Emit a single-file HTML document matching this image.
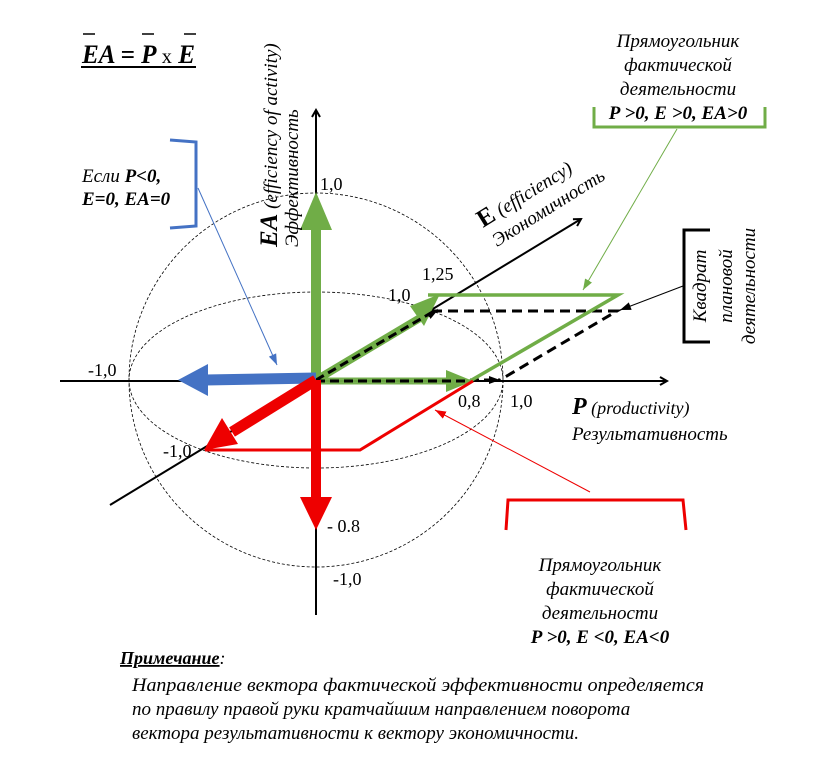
<!DOCTYPE html>
<html><head><meta charset="utf-8"><style>
html,body{margin:0;padding:0;background:#fff;width:830px;height:768px;overflow:hidden}
svg{display:block}
text{font-family:"Liberation Serif","Noto Serif CJK SC",serif;fill:#000}
</style></head><body>
<svg width="830" height="768" viewBox="0 0 830 768" xmlns="http://www.w3.org/2000/svg">
<defs>
<marker id="ab" markerWidth="10" markerHeight="10" refX="8" refY="5" orient="auto" markerUnits="userSpaceOnUse"><path d="M1,1 L8,5 L1,9" fill="none" stroke="#000" stroke-width="2"/></marker>
<marker id="sb" markerWidth="12" markerHeight="10" refX="11" refY="5" orient="auto" markerUnits="userSpaceOnUse"><path d="M0,1 L11,5 L0,9 z" fill="#000"/></marker>
<marker id="sg" markerWidth="12" markerHeight="10" refX="11" refY="5" orient="auto" markerUnits="userSpaceOnUse"><path d="M0,1 L11,5 L0,9 z" fill="#70ad47"/></marker>
<marker id="sr" markerWidth="12" markerHeight="10" refX="11" refY="5" orient="auto" markerUnits="userSpaceOnUse"><path d="M0,1 L11,5 L0,9 z" fill="#e00"/></marker>
<marker id="sbl" markerWidth="12" markerHeight="10" refX="11" refY="5" orient="auto" markerUnits="userSpaceOnUse"><path d="M0,1 L11,5 L0,9 z" fill="#4472c4"/></marker>
</defs>

<!-- formula -->
<text x="82" y="63" font-size="26" font-weight="bold" font-style="italic" textLength="113" lengthAdjust="spacingAndGlyphs">EA = P <tspan font-weight="normal" font-style="normal" font-size="21">x</tspan> E</text>
<line x1="81" y1="67" x2="196" y2="67" stroke="#000" stroke-width="2"/>
<line x1="83" y1="34" x2="95" y2="34" stroke="#000" stroke-width="1.5"/>
<line x1="142" y1="34" x2="154" y2="34" stroke="#000" stroke-width="1.5"/>
<line x1="184" y1="34" x2="196" y2="34" stroke="#000" stroke-width="1.5"/>

<!-- dashed ellipses -->
<circle cx="316" cy="380" r="187" fill="none" stroke="#000" stroke-width="0.8" stroke-dasharray="3,2"/>
<ellipse cx="316" cy="380" rx="187" ry="88" fill="none" stroke="#000" stroke-width="0.8" stroke-dasharray="3,2"/>

<!-- axes -->
<line x1="316" y1="615" x2="316" y2="110" stroke="#000" stroke-width="2" marker-end="url(#ab)"/>
<line x1="60" y1="381" x2="667" y2="381" stroke="#000" stroke-width="2" marker-end="url(#ab)"/>
<line x1="110" y1="505" x2="581" y2="219" stroke="#000" stroke-width="2" marker-end="url(#ab)"/>

<!-- planned square dashed -->
<polyline points="316,380 500,380" fill="none" stroke="#000" stroke-width="3" stroke-dasharray="9,5" marker-end="url(#sb)"/>
<line x1="316" y1="380" x2="438" y2="310" stroke="#000" stroke-width="3" stroke-dasharray="9,5" marker-end="url(#sb)"/>
<polyline points="432,311 617,311 500,380" fill="none" stroke="#000" stroke-width="3" stroke-dasharray="10,6"/>

<!-- green parallelogram -->
<polyline points="470,381 618,295 428,295" fill="none" stroke="#70ad47" stroke-width="3.5"/>
<!-- green arrows -->
<line x1="316" y1="380" x2="316" y2="228" stroke="#70ad47" stroke-width="10"/>
<polygon points="316,192 300,230 332,230" fill="#70ad47"/>
<line x1="316" y1="381" x2="452" y2="381" stroke="#70ad47" stroke-width="7" opacity="0.95"/>
<polygon points="473,381 446,370 446,392" fill="#70ad47"/>
<line x1="316" y1="380" x2="420" y2="318" stroke="#70ad47" stroke-width="8"/>
<polygon points="440,294 410,306 424,326" fill="#70ad47"/>
<line x1="316" y1="380" x2="436" y2="310" stroke="#000" stroke-width="3" stroke-dasharray="9,5"/>
<line x1="316" y1="381" x2="470" y2="381" stroke="#000" stroke-width="3" stroke-dasharray="9,5"/>

<!-- blue arrow -->
<line x1="316" y1="378" x2="205" y2="380" stroke="#4472c4" stroke-width="11"/>
<polygon points="178,380 208,364 208,396" fill="#4472c4"/>

<!-- red parallelogram -->
<polyline points="205,450 360,450 473,381" fill="none" stroke="#e00" stroke-width="3"/>
<!-- red arrows -->
<line x1="316" y1="380" x2="316" y2="500" stroke="#e00" stroke-width="10"/>
<polygon points="316,530 300,497 332,497" fill="#e00"/>
<line x1="316" y1="380" x2="232" y2="432" stroke="#e00" stroke-width="11"/>
<polygon points="204,450 222,418 238,444" fill="#e00"/>

<!-- axis labels -->
<g font-size="18">
<text x="320" y="190">1,0</text>
<text x="388" y="301">1,0</text>
<text x="422" y="280">1,25</text>
<text x="88" y="376">-1,0</text>
<text x="458" y="407">0,8</text>
<text x="510" y="407">1,0</text>
<text x="163" y="457">-1,0</text>
<text x="327" y="532">- 0.8</text>
<text x="333" y="585">-1,0</text>
</g>

<!-- EA label -->
<text transform="translate(277,247) rotate(-90)" font-size="19" font-style="italic"><tspan font-weight="bold" font-size="25">EA</tspan> (efficiency of activity)</text>
<text transform="translate(298,247) rotate(-90)" font-size="19" font-style="italic">Эффективность</text>

<!-- E label -->
<text transform="translate(483,228) rotate(-32)" font-size="19" font-style="italic"><tspan font-weight="bold" font-style="normal" font-size="25">E</tspan> (efficiency)</text>
<text transform="translate(497,247) rotate(-32)" font-size="19" font-style="italic">Экономичность</text>

<!-- P label -->
<text x="572" y="414" font-size="18" font-style="italic"><tspan font-weight="bold" font-size="24">P</tspan> (productivity)</text>
<text x="572" y="440" font-size="19" font-style="italic">Результативность</text>

<!-- blue note -->
<path d="M170,140 L196,142 L196,226 L170,228" fill="none" stroke="#4472c4" stroke-width="3"/>
<text x="82" y="182" font-size="19" font-style="italic">Если <tspan font-weight="bold">P&lt;0,</tspan></text>
<text x="82" y="205" font-size="19" font-style="italic" font-weight="bold">E=0, EA=0</text>
<line x1="198" y1="188" x2="277" y2="365" stroke="#4472c4" stroke-width="1" marker-end="url(#sbl)"/>

<!-- green note -->
<g font-size="19" font-style="italic" text-anchor="middle">
<text x="678" y="47">Прямоугольник</text>
<text x="678" y="71">фактической</text>
<text x="678" y="95">деятельности</text>
<text x="678" y="119" font-weight="bold">P &gt;0, E &gt;0, EA&gt;0</text>
</g>
<path d="M594,107 L594,127 L765,127 L765,107" fill="none" stroke="#70ad47" stroke-width="3"/>
<line x1="677" y1="129" x2="583" y2="290" stroke="#70ad47" stroke-width="1" marker-end="url(#sg)"/>

<!-- black bracket note -->
<path d="M710,230 L684,230 L684,342 L710,342" fill="none" stroke="#000" stroke-width="3"/>
<line x1="683" y1="286" x2="620" y2="310" stroke="#000" stroke-width="1" marker-end="url(#sb)"/>
<g font-size="19" font-style="italic" text-anchor="middle">
<text transform="translate(706,286) rotate(-90)">Квадрат</text>
<text transform="translate(732,286) rotate(-90)">плановой</text>
<text transform="translate(755,286) rotate(-90)">деятельности</text>
</g>

<!-- red note -->
<path d="M506,530 L508,500 L683,500 L686,530" fill="none" stroke="#e00" stroke-width="3"/>
<line x1="590" y1="492" x2="435" y2="410" stroke="#e00" stroke-width="1" marker-end="url(#sr)"/>
<g font-size="19" font-style="italic" text-anchor="middle">
<text x="600" y="571">Прямоугольник</text>
<text x="600" y="595">фактической</text>
<text x="600" y="619">деятельности</text>
<text x="600" y="643" font-weight="bold">P &gt;0, E &lt;0, EA&lt;0</text>
</g>

<!-- note -->
<text x="120" y="664" font-size="18" font-style="italic"><tspan font-weight="bold" text-decoration="underline">Примечание</tspan>:</text>
<g font-size="19" font-style="italic">
<text x="132" y="691" textLength="572" lengthAdjust="spacingAndGlyphs">Направление вектора фактической эффективности определяется</text>
<text x="132" y="715">по правилу правой руки кратчайшим направлением поворота</text>
<text x="132" y="739">вектора результативности к вектору экономичности.</text>
</g>
</svg>
</body></html>
